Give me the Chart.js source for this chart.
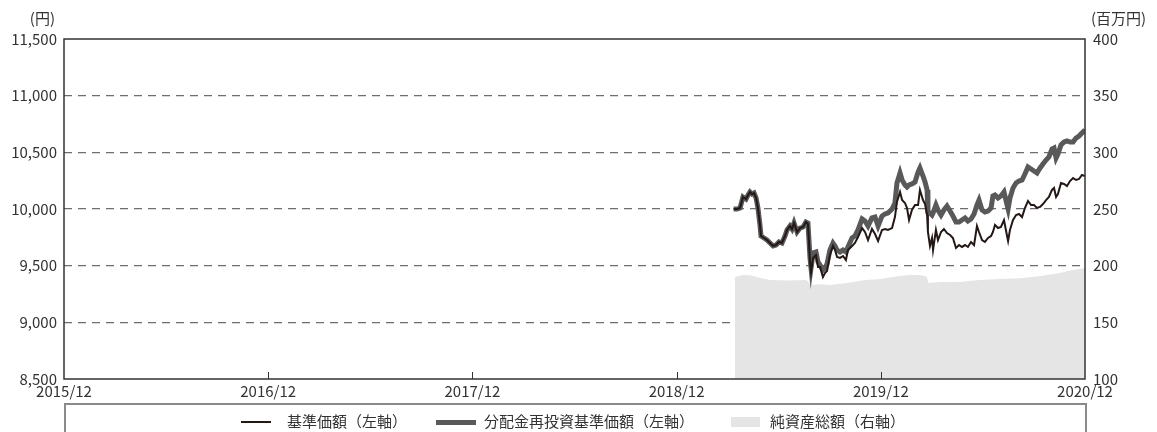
<!DOCTYPE html>
<html lang="ja">
<head>
<meta charset="utf-8">
<script src="https://cdn.jsdelivr.net/npm/chart.js@4/dist/chart.umd.min.js"></script>
<style>
  html, body { margin: 0; padding: 0; background: #fff; overflow: hidden; }
  #wrap { position: relative; width: 1157px; height: 432px; font-family: "Noto Sans CJK JP", "Noto Sans", sans-serif; color: #333; }
  #c { position: absolute; left: 0; top: 0; }
  #legend { position: absolute; left: 64px; top: 403px; width: 1019px; height: 40px; border: 2px solid #8a8a8a; border-bottom: none; box-sizing: content-box; }
  .lg { position: absolute; font-size: 15px; line-height: 18px; top: 412px; white-space: nowrap; color: #333; }
  .sw { position: absolute; }
</style>
</head>
<body>
<div id="wrap">
  <canvas id="c" width="1157" height="432"></canvas>
  <div id="legend"></div>
  <div class="sw" style="left:241px;top:421px;width:30px;height:2px;background:#231815;"></div>
  <div class="lg" style="left:287px;">基準価額（左軸）</div>
  <div class="sw" style="left:436px;top:419.5px;width:40px;height:5px;background:#595959;"></div>
  <div class="lg" style="left:484px;">分配金再投資基準価額（左軸）</div>
  <div class="sw" style="left:731px;top:417px;width:29px;height:10px;background:#e5e5e5;"></div>
  <div class="lg" style="left:770px;">純資産総額（右軸）</div>
</div>
<script>
// months since 2015/12
const navMonths = [39.35,39.55,39.73,39.90,40.08,40.20,40.31,40.43,40.55,40.67,40.78,40.90,40.96,41.14,41.31,41.49,41.67,41.84,42.02,42.19,42.37,42.49,42.66,42.78,42.90,43.08,43.25,43.43,43.60,43.72,43.84,43.90,44.02,44.19,44.31,44.43,44.60,44.72,44.84,45.01,45.19,45.31,45.43,45.60,45.78,45.95,46.07,46.31,46.48,46.66,46.90,47.07,47.25,47.48,47.66,47.84,48.07,48.25,48.42,48.66,48.83,48.95,49.13,49.25,49.42,49.54,49.66,49.83,50.01,50.19,50.30,50.48,50.60,50.72,50.77,50.89,51.01,51.07,51.24,51.36,51.54,51.71,51.89,52.07,52.24,52.42,52.60,52.77,52.95,53.12,53.30,53.48,53.65,53.77,53.95,54.12,54.30,54.48,54.59,54.71,54.89,55.06,55.24,55.42,55.48,55.59,55.77,55.95,56.12,56.30,56.47,56.65,56.83,57.00,57.18,57.36,57.53,57.71,57.88,58.06,58.18,58.30,58.41,58.59,58.77,58.94,59.12,59.30,59.47,59.65,59.82,60.00];
// 基準価額
const navBase = [10000,10000,10009,10106,10088,10124,10150,10132,10141,10097,10009,9859,9762,9744,9726,9700,9674,9682,9709,9700,9762,9815,9850,9824,9876,9797,9832,9841,9885,9868,9532,9444,9568,9594,9488,9488,9400,9435,9453,9594,9674,9638,9576,9568,9585,9550,9638,9674,9700,9753,9832,9797,9726,9824,9779,9718,9815,9824,9815,9832,9929,10062,10150,10079,10053,10009,9903,9991,10035,10035,10168,10079,10044,9947,9797,9674,9744,9638,9815,9726,9797,9824,9788,9771,9744,9656,9682,9665,9682,9665,9709,9682,9850,9797,9726,9709,9744,9762,9797,9859,9832,9841,9903,9762,9718,9815,9903,9947,9956,9929,10009,10071,10035,10035,10009,10018,10044,10079,10106,10168,10185,10106,10132,10229,10221,10203,10247,10274,10256,10265,10300,10291];
// 分配金再投資基準価額
const navReinvest = [10000,10000,10009,10106,10088,10124,10150,10132,10141,10097,10009,9859,9762,9744,9726,9700,9674,9682,9709,9700,9762,9815,9850,9824,9876,9797,9832,9841,9885,9876,9568,9479,9612,9621,9532,9506,9462,9479,9515,9638,9700,9674,9638,9621,9638,9621,9665,9744,9762,9815,9912,9894,9850,9921,9929,9850,9938,9956,9965,10000,10053,10229,10318,10256,10212,10194,10212,10221,10238,10326,10362,10291,10238,10168,9974,9965,9947,9965,10035,9991,9947,9991,10026,9982,9938,9885,9885,9903,9921,9894,9912,9956,10035,10079,9991,9974,9982,10009,10115,10124,10097,10115,10150,10035,10000,10097,10185,10229,10247,10256,10309,10371,10353,10335,10318,10362,10397,10432,10459,10529,10538,10450,10485,10565,10591,10600,10591,10591,10626,10644,10671,10697];
// 純資産総額 (百万円)
const assetMonths = [39.43,39.90,40.31,41.00,41.50,42.50,43.60,43.75,43.85,44.50,45.00,46.00,47.10,48.00,48.90,49.70,50.30,50.70,50.80,51.50,52.60,53.80,55.00,56.20,57.40,58.50,59.30,60.00];
const assetValues = [190.0,191.8,191.5,189.0,187.4,187.0,187.4,186.0,182.9,183.5,182.9,184.7,187.4,188.2,190.5,191.8,191.8,190.5,184.7,185.6,185.6,187.4,188.2,189.0,190.9,193.5,196.2,197.9];

const xTickLabels = ['2015/12','2016/12','2017/12','2018/12','2019/12','2020/12'];
const leftTicks = [8500, 9000, 9500, 10000, 10500, 11000, 11500];
const rightTicks = [100, 150, 200, 250, 300, 350, 400];
const leftUnit = '(円)';
const rightUnit = '(百万円)';

const FONT = '"Noto Sans CJK JP", "Noto Sans", sans-serif';
const pts = (xs, ys) => xs.map((x, i) => ({ x: x, y: ys[i] }));

const framePlugin = {
  id: 'frame',
  afterDraw(chart) {
    const { ctx, chartArea: a, scales } = chart;
    ctx.save();
    ctx.strokeStyle = '#333';
    ctx.lineWidth = 1;
    for (let i = 1; i < xTickLabels.length - 1; i++) {
      const px = Math.round(scales.x.getPixelForValue(i * 12)) + 0.5;
      ctx.beginPath();
      ctx.moveTo(px, a.bottom);
      ctx.lineTo(px, a.bottom - 7);
      ctx.stroke();
    }
    ctx.lineWidth = 1.5;
    ctx.strokeRect(a.left, a.top, a.right - a.left, a.bottom - a.top);
    ctx.fillStyle = '#333';
    ctx.font = '15px ' + FONT;
    ctx.textBaseline = 'middle';
    ctx.textAlign = 'right';
    ctx.fillText(leftUnit, 55, 18);
    ctx.textAlign = 'left';
    ctx.fillText(rightUnit, 1091, 18);
    ctx.restore();
  }
};

new Chart(document.getElementById('c'), {
  type: 'line',
  data: {
    datasets: [
      { label: '基準価額（左軸）', data: pts(navMonths, navBase), yAxisID: 'y', borderColor: '#231815', borderWidth: 2, pointRadius: 0, tension: 0, fill: false },
      { label: '分配金再投資基準価額（左軸）', data: pts(navMonths, navReinvest), yAxisID: 'y', borderColor: '#595959', borderWidth: 5, pointRadius: 0, tension: 0, fill: false },
      { label: '純資産総額（右軸）', data: pts(assetMonths, assetValues), yAxisID: 'y1', borderColor: '#e5e5e5', borderWidth: 0, backgroundColor: '#e5e5e5', pointRadius: 0, tension: 0, fill: 'start' }
    ]
  },
  options: {
    responsive: false,
    animation: false,
    events: [],
    layout: { padding: { top: 39, left: 0, right: 0, bottom: 0 } },
    plugins: { legend: { display: false }, tooltip: { enabled: false } },
    scales: {
      x: {
        type: 'linear', min: 0, max: 60,
        afterBuildTicks(s) { s.ticks = xTickLabels.map((_, i) => ({ value: i * 12 })); },
        afterFit(s) { s.height = 53; },
        grid: { display: false, drawTicks: false },
        border: { display: false },
        ticks: { padding: 3, color: '#333', font: { family: FONT, size: 15 }, maxRotation: 0, autoSkip: false,
          callback: (v) => xTickLabels[Math.round(v / 12)] }
      },
      y: {
        position: 'left', min: 8500, max: 11500,
        afterBuildTicks(s) { s.ticks = leftTicks.map(v => ({ value: v })); },
        afterFit(s) { s.width = 64; },
        border: { display: false, dash: [8, 6] },
        grid: { drawTicks: false, lineWidth: 1.3, color: (c) => (c.tick && (c.tick.value === 8500 || c.tick.value === 11500)) ? 'rgba(0,0,0,0)' : '#6e6e6e' },
        ticks: { padding: 7, color: '#333', font: { family: FONT, size: 15 }, callback: (v) => v.toLocaleString('en-US') }
      },
      y1: {
        position: 'right', min: 100, max: 400,
        afterBuildTicks(s) { s.ticks = rightTicks.map(v => ({ value: v })); },
        afterFit(s) { s.width = 72; },
        border: { display: false },
        grid: { display: false, drawTicks: false },
        ticks: { padding: 8, color: '#333', font: { family: FONT, size: 15 } }
      }
    }
  },
  plugins: [framePlugin]
});
</script>
</body>
</html>
